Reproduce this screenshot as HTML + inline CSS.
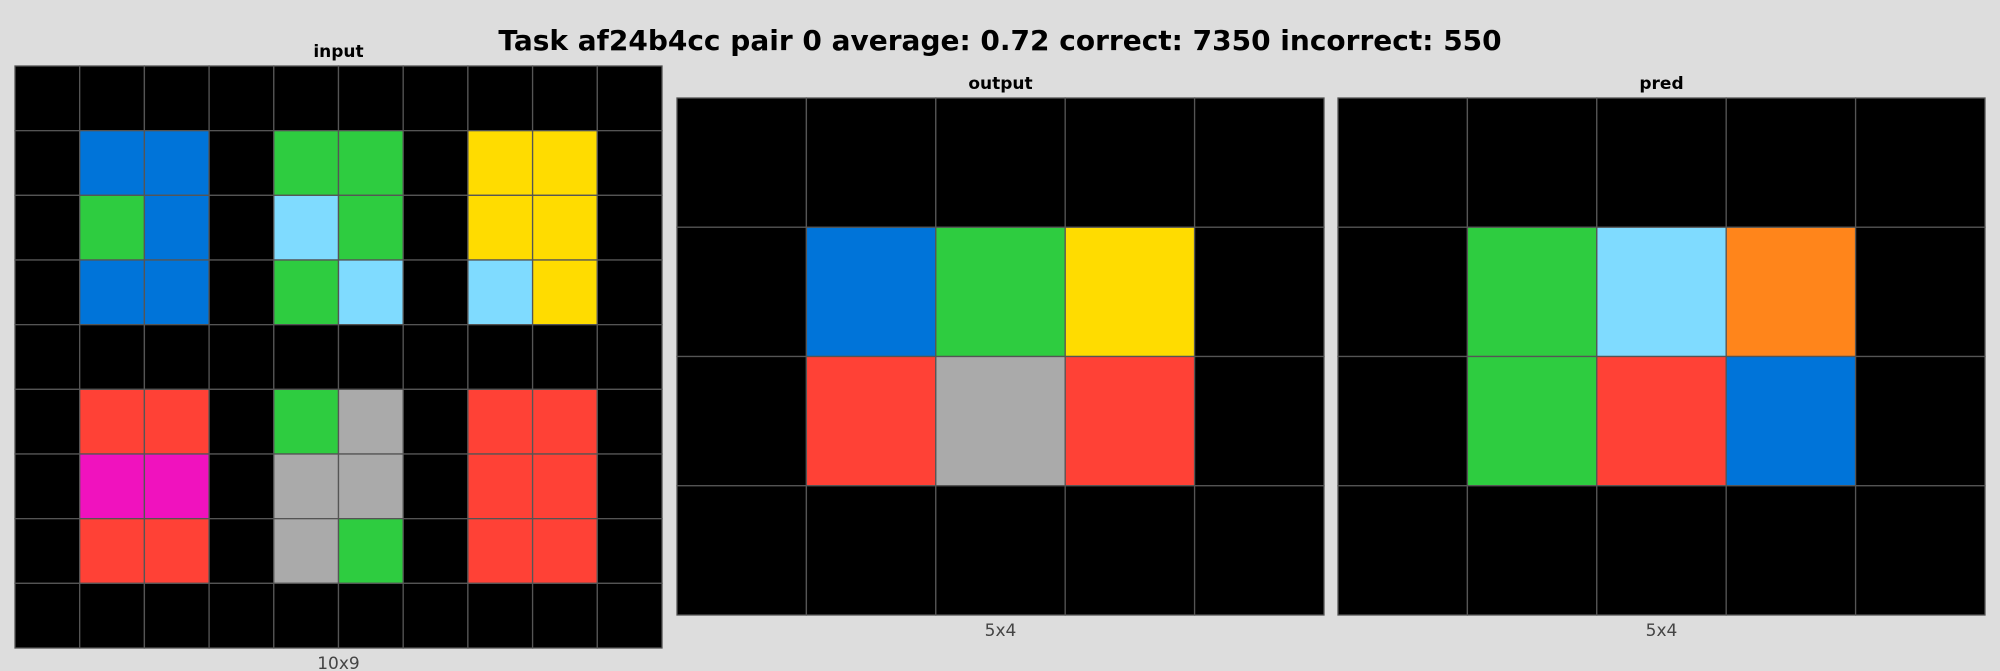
<!DOCTYPE html>
<html><head><meta charset="utf-8"><style>
body{margin:0;width:2000px;height:671px;background:#dddddd;overflow:hidden;font-family:"DejaVu Sans","Liberation Sans",sans-serif;position:relative}
.t{position:absolute;transform:translateX(-50%);white-space:nowrap}
</style></head><body>
<div class="t" style="left:1000px;top:24px;font-size:28px;font-weight:bold">Task af24b4cc pair 0 average: 0.72 correct: 7350 incorrect: 550</div>
<svg id="s" width="2000" height="671" style="position:absolute;left:0;top:0"></svg>
<script>
const C={0:'#000000',1:'#0074D9',2:'#FF4136',3:'#2ECC40',4:'#FFDC00',5:'#AAAAAA',6:'#F012BE',7:'#FF851B',8:'#7FDBFF'};
const inputGrid=[
[0,0,0,0,0,0,0,0,0,0],
[0,1,1,0,3,3,0,4,4,0],
[0,3,1,0,8,3,0,4,4,0],
[0,1,1,0,3,8,0,8,4,0],
[0,0,0,0,0,0,0,0,0,0],
[0,2,2,0,3,5,0,2,2,0],
[0,6,6,0,5,5,0,2,2,0],
[0,2,2,0,5,3,0,2,2,0],
[0,0,0,0,0,0,0,0,0,0]];
const outputGrid=[[0,0,0,0,0],[0,1,3,4,0],[0,2,5,2,0],[0,0,0,0,0]];
const predGrid=[[0,0,0,0,0],[0,3,8,7,0],[0,3,2,1,0],[0,0,0,0,0]];
const panels=[
{name:'input',g:inputGrid,x0:15,x1:662,y0:66,y1:648,title:'input',label:'10x9'},
{name:'output',g:outputGrid,x0:677,x1:1324,y0:98,y1:615,title:'output',label:'5x4'},
{name:'pred',g:predGrid,x0:1338,x1:1985,y0:98,y1:615,title:'pred',label:'5x4'}];
const s=document.getElementById('s'),NS='http://www.w3.org/2000/svg';
panels.forEach(p=>{
 const rows=p.g.length,cols=p.g[0].length,cw=(p.x1-p.x0)/cols,ch=(p.y1-p.y0)/rows;
 const grp=document.createElementNS(NS,'g');
 
 
 s.appendChild(grp);
 p.g.forEach((row,r)=>row.forEach((v,c)=>{
  const e=document.createElementNS(NS,'rect');
  e.setAttribute('x',p.x0+c*cw);e.setAttribute('y',p.y0+r*ch);
  e.setAttribute('width',cw);e.setAttribute('height',ch);
  e.setAttribute('fill',C[v]);e.setAttribute('stroke','#555');e.setAttribute('stroke-width','1.3');
  
  
  grp.appendChild(e);
 }));
 const t=document.createElementNS(NS,'text');
 t.setAttribute('x',(p.x0+p.x1)/2);t.setAttribute('y',p.y0-9);t.setAttribute('text-anchor','middle');
 t.setAttribute('font-size','17');t.setAttribute('font-weight','bold');t.textContent=p.title;
 
 
 s.appendChild(t);
 const l=document.createElementNS(NS,'text');
 l.setAttribute('x',(p.x0+p.x1)/2);l.setAttribute('y',p.y1+21);l.setAttribute('text-anchor','middle');
 l.setAttribute('font-size','17');l.setAttribute('fill','#444');l.textContent=p.label;
 
 
 s.appendChild(l);
});
</script>
</body></html>
